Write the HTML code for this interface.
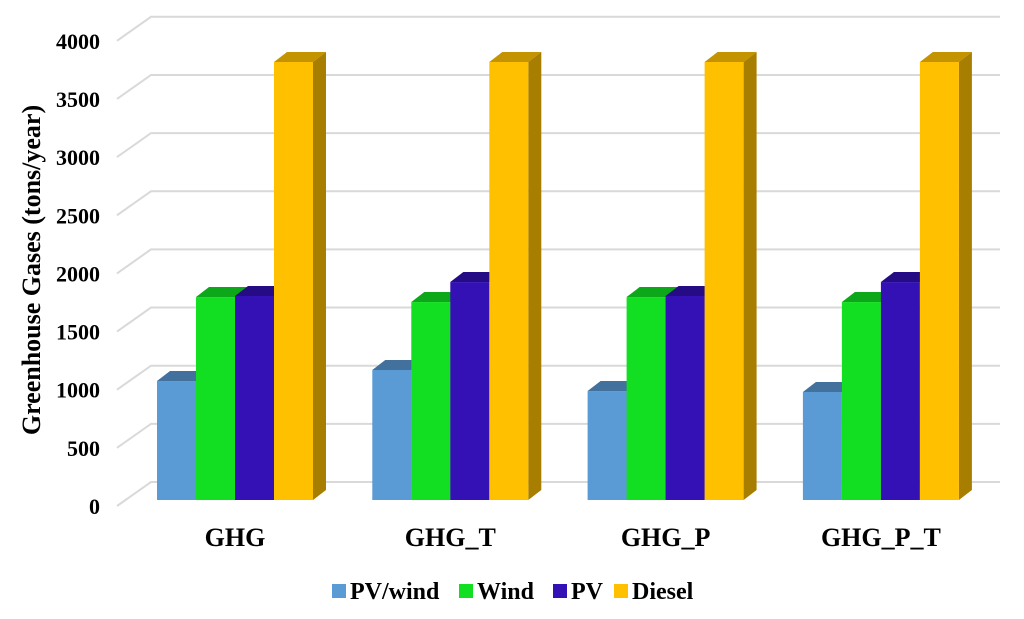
<!DOCTYPE html>
<html><head><meta charset="utf-8"><style>
body{margin:0;background:#fff}
svg text{font-family:"Liberation Serif",serif;font-weight:bold}
</style></head><body>
<svg width="1024" height="614">
<g id="grid"></g><g id="bars"></g><g id="labels"></g>
<text transform="translate(40,270) rotate(-90)" text-anchor="middle" font-size="26">Greenhouse Gases (tons/year)</text>
<g id="legend"></g>
</svg>
<script>
const categories=["GHG","GHG_T","GHG_P","GHG_P_T"];
const seriesNames=["PV/wind","Wind","PV","Diesel"];
const pvwind=[1023,1118,937,929];
const wind=[1745,1702,1745,1702];
const pv=[1754,1874,1754,1874];
const diesel=[3766,3766,3766,3766];
const ticks=[0,500,1000,1500,2000,2500,3000,3500,4000];
const colors=[["#5b9bd5","#41719c","#41719c"],["#12df22","#0da819","#0da819"],["#3411b4","#250c85","#250c85"],["#ffc000","#c49300","#a87e00"]];
const NS="http://www.w3.org/2000/svg";
const k=0.1163, base=500, dx=13, dy=-10;
function yF(v){return base-v*k;}
function el(t,a,p){const e=document.createElementNS(NS,t);for(const x in a)e.setAttribute(x,a[x]);p.appendChild(e);return e;}
const grid=document.getElementById('grid'),bars=document.getElementById('bars'),labels=document.getElementById('labels'),legend=document.getElementById('legend');
ticks.forEach(t=>{
 const yb=482-t*k, yf=506-t*k;
 const l=el('polyline',{points:`117,${yf} 151,${yb} 1000,${yb}`,fill:'none',stroke:'#d9d9d9','stroke-width':2},grid);
 
 
 const tx=el('text',{x:100,y:yf+8,'text-anchor':'end','font-size':22},labels);
 tx.textContent=t;
 
 
});
const series=[pvwind,wind,pv,diesel];
const bw=39, gs=215.3;
categories.forEach((c,i)=>{
 const x0=157+i*gs;
 series.forEach((s,j)=>{
  const x=x0+j*bw, top=yF(s[i]), col=colors[j];
  const g=el('g',{},bars);
  
  
  el('polygon',{points:`${x},${top} ${x+dx},${top+dy} ${x+bw+dx},${top+dy} ${x+bw},${top}`,fill:col[1]},g);
  el('polygon',{points:`${x+bw},${top} ${x+bw+dx},${top+dy} ${x+bw+dx},${base+dy} ${x+bw},${base}`,fill:col[2]},g);
  el('rect',{x:x,y:top,width:bw,height:base-top,fill:col[0]},g);
 });
 const t=el('text',{x:x0+2*bw,y:546,'text-anchor':'middle','font-size':26},labels);
 t.textContent=c;
 
 
});
const lx=[332,459,553,614];
seriesNames.forEach((n,j)=>{
 const g=el('g',{},legend);
 
 
 el('rect',{x:lx[j],y:584,width:14,height:14,fill:colors[j][0]},g);
 const t=el('text',{x:lx[j]+18,y:599,'font-size':24},g);
 t.textContent=n;
});
</script>
</body></html>
